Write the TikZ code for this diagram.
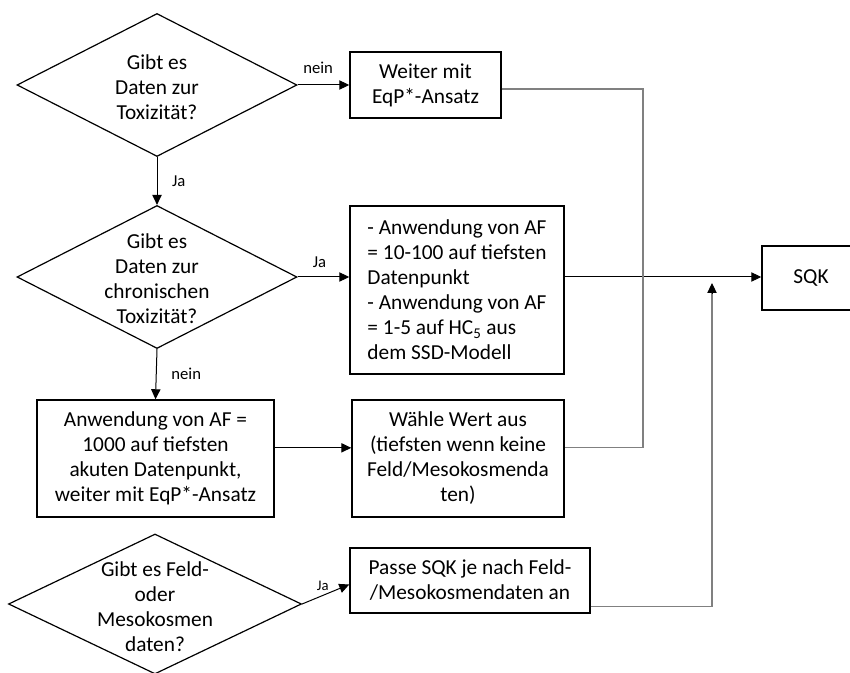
\documentclass[tikz,border=0pt]{standalone}
\usepackage{fontspec}
\setmainfont{Carlito}
\usetikzlibrary{shapes.geometric,arrows.meta}

\tikzset{
	decision/.style={draw, diamond, inner sep=0pt, line width=0.9pt, minimum width=210pt, minimum height=107.25pt},
	dtext/.style={align=center, inner sep=0pt, font=\fontsize{16}{18.75}\selectfont},
	stepbox/.style={draw, rectangle, inner sep=0pt, line width=1.1pt, align=center, font=\fontsize{16}{18.75}\selectfont},
	flow/.style={line width=0.75pt, -{Triangle[length=7.5pt,width=7pt]}},
	merge/.style={line width=1pt, draw=black!50},
	lbl/.style={inner sep=1pt, font=\fontsize{12.5}{14}\selectfont}
}

\begin{document}
\begin{tikzpicture}[x=0.75pt, y=-0.75pt]
		%%%%% START %%%%%
		\useasboundingbox (0,0) rectangle (850,673);
		
		% decisions
		\node[decision] (d1) at (157,85) {};
		\node[dtext] (d1t) at (157,87) {Gibt es\\Daten zur\\Toxizität?};
		
		\node[decision] (d2) at (157,277) {};
		\node[dtext] (d2t) at (157,279) {Gibt es\\Daten zur\\chronischen\\Toxizität?};
		
		\node[decision, minimum width=219.75pt, minimum height=105pt] (d3) at (155,604) {};
		\node[dtext] (d3t) at (155,607) {Gibt es Feld-\\oder\\Mesokosmen\\daten?};
		
		% boxes
		\node[stepbox, minimum width=113.25pt, minimum height=49.5pt] (weiter) at (425.5,85) {Weiter mit\\EqP*-Ansatz};
		\node[stepbox, align=left, minimum width=160.5pt, minimum height=126pt] (af) at (457,290) {- Anwendung von AF\\= 10-100 auf tiefsten\\Datenpunkt\\- Anwendung von AF\\= 1-5 auf HC\textsubscript{5} aus\\dem SSD-Modell};
		\node[stepbox, minimum width=177.75pt, minimum height=87.75pt] (akut) at (155.5,458.5) {Anwendung von AF =\\1000 auf tiefsten\\akuten Datenpunkt,\\weiter mit EqP*-Ansatz};
		\node[stepbox, minimum width=159pt, minimum height=87.75pt] (waehle) at (458,458.5) {Wähle Wert aus\\(tiefsten wenn keine\\Feld/Mesokosmenda\\ten)};
		\node[stepbox, minimum width=180pt, minimum height=48.75pt] (passe) at (470,580.5) {Passe SQK je nach Feld-\\/Mesokosmendaten an};
		\node[stepbox, minimum width=73.5pt, minimum height=48pt] (sqk) at (811,278) {SQK};
		
		\coordinate (mrg) at (643,277);
		\coordinate (tip) at (712,283);
		
		% arrows
		\draw[flow] (d1.east) -- node[lbl, above=7pt, xshift=-4pt] {nein} (weiter.west);
		\draw[flow] (d1.south) -- node[lbl, right=10pt] {Ja} (d2.north);
		\draw[flow] (d2.east) -- node[lbl, above=6pt, xshift=-3pt] {Ja} (d2.east -| af.west);
		\draw[flow] (d2.south) -- node[lbl, right=10pt] {nein} (akut.north);
		\draw[flow] ([yshift=8pt]akut.east) -- ([yshift=8pt]waehle.west);
		\draw[flow] (d3.east) -- node[lbl, above left=0pt, pos=0.6, font=\fontsize{11}{12}\selectfont] {Ja} ([yshift=-3pt]passe.west);
		\draw[flow] (af.east |- mrg) -- (sqk.west |- mrg);
		
		% merging lines
		\draw[merge] ([yshift=-3pt]weiter.east) -| (mrg) |- ([yshift=8pt]waehle.east);
		\draw[merge] ([yshift=-19.5pt]passe.east) -| ([yshift=-7pt]tip);
		\draw[flow] ([yshift=-8pt]tip) -- (tip);
		
		%%%%% END %%%%%
	\end{tikzpicture}
\end{document}
